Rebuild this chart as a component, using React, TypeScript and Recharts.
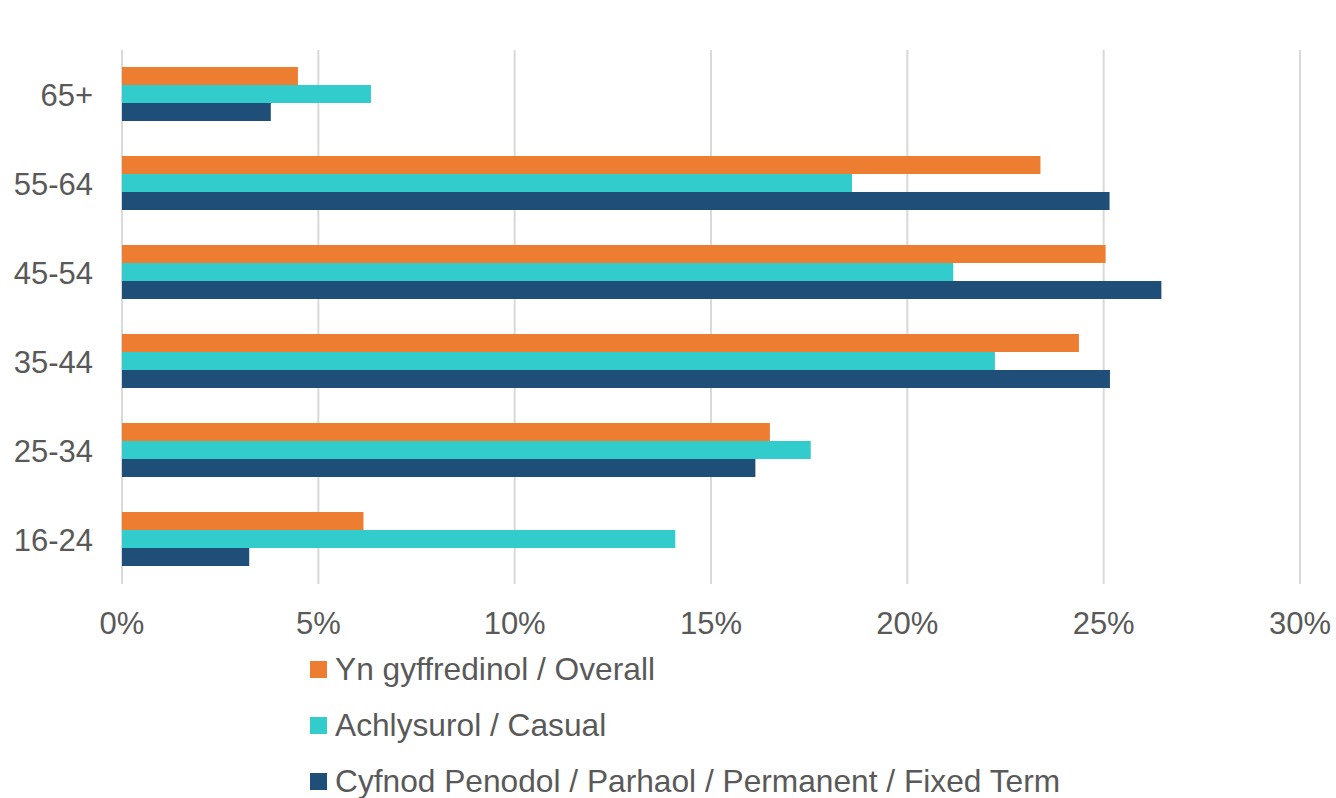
import React from 'react';
import { Bar, BarChart, CartesianGrid, XAxis, YAxis } from 'recharts';

const ageGroups = ['65+', '55-64', '45-54', '35-44', '25-34', '16-24'];
const overall = [4.48, 23.39, 25.05, 24.37, 16.5, 6.15];
const casual = [6.34, 18.59, 21.17, 22.23, 17.54, 14.09];
const permanent = [3.79, 25.15, 26.47, 25.16, 16.13, 3.24];
const xTicks = [0, 5, 10, 15, 20, 25, 30];

const series = [
  { key: 'overall', name: 'Yn gyffredinol / Overall', color: '#ED7D31' },
  { key: 'casual', name: 'Achlysurol / Casual', color: '#33CCCC' },
  { key: 'permanent', name: 'Cyfnod Penodol / Parhaol / Permanent / Fixed Term', color: '#1F4E79' },
];

const data = ageGroups.map((age, i) => ({
  age,
  overall: overall[i],
  casual: casual[i],
  permanent: permanent[i],
}));

const FONT = '"Liberation Sans", Arial, sans-serif';
const tickStyle = { fill: '#595959', fontSize: 31, fontFamily: FONT };

export default function App() {
  return (
    <div style={{ position: 'absolute', left: 0, top: 0, width: 1336, height: 798, background: '#fff' }}>
      <BarChart
        width={1336}
        height={798}
        data={data}
        layout="vertical"
        margin={{ top: 50, right: 36, bottom: 0, left: 0 }}
        barCategoryGap="19%"
        barGap={0}
      >
        <CartesianGrid horizontal={false} stroke="#D9D9D9" strokeWidth={2} />
        <XAxis
          type="number"
          domain={[0, 30]}
          ticks={xTicks}
          tickFormatter={(v: number) => `${v}%`}
          tick={tickStyle}
          axisLine={false}
          tickLine={false}
          tickSize={0}
          tickMargin={28}
          height={214}
          interval={0}
        />
        <YAxis
          type="category"
          dataKey="age"
          width={122}
          tick={tickStyle}
          axisLine={false}
          tickLine={false}
          tickSize={0}
          tickMargin={29}
          interval={0}
        />
        {series.map((s) => (
          <Bar key={s.key} dataKey={s.key} name={s.name} fill={s.color} isAnimationActive={false} />
        ))}
      </BarChart>
      <div style={{ position: 'absolute', left: 310, top: 641, fontFamily: FONT, fontSize: 31.7, color: '#595959' }}>
        {series.map((s) => (
          <div key={s.key} style={{ display: 'flex', alignItems: 'center', height: 56, whiteSpace: 'nowrap' }}>
            <span style={{ width: 17, height: 17, background: s.color, marginRight: 8, flex: 'none' }} />
            <span>{s.name}</span>
          </div>
        ))}
      </div>
    </div>
  );
}
